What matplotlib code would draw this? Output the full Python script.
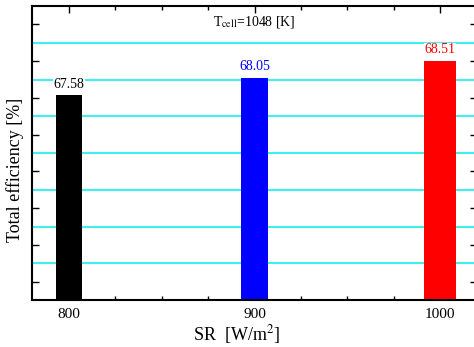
import matplotlib
matplotlib.use('Agg')
import matplotlib.pyplot as plt
import numpy as np

# Total efficiency at each solar radiation level.
sr_levels = [800, 900, 1000]
efficiency = [67.58, 68.05, 68.51]
bar_colors = ['black', 'blue', 'red']
bar_widths = [14, 14.5, 17]
tick_labels = ['800', '900', '1000']
grid_values = [63, 64, 65, 66, 67, 68, 69]

plt.rcParams['font.family'] = ['Liberation Serif', 'DejaVu Serif']
plt.rcParams['mathtext.fontset'] = 'stix'

fig = plt.figure(figsize=(4.74, 3.47), dpi=100)
ax = fig.add_axes([32 / 474, 1 - 300 / 347, 445 / 474, 294 / 347])

# Cyan horizontal grid lines behind the bars.
for g in grid_values:
    ax.axhline(g, color='#40F0F0', linewidth=1.5, zorder=0)

ax.bar(sr_levels, efficiency, width=bar_widths, color=bar_colors, zorder=2)

for x, v, c in zip(sr_levels, efficiency, bar_colors):
    ax.text(x, v + 0.12, f'{v:.2f}', color=c, ha='center', va='bottom',
            fontsize=10, zorder=3,
            bbox=dict(facecolor='white', edgecolor='none', pad=0.5))

ax.text(0.50, 0.946, r'T$_{\mathrm{cell}}$=1048 [K]', transform=ax.transAxes,
        ha='center', va='center', fontsize=10)

ax.set_xlim(780, 1020)
ax.set_ylim(62, 70)

ax.set_xticks(sr_levels)
ax.set_xticklabels(tick_labels, fontsize=11)
ax.set_xticks([825, 850, 875, 925, 950, 975], minor=True)
ax.set_yticks(np.arange(62.5, 70, 1.0))
ax.set_yticklabels([])
ax.tick_params(axis='both', which='major', direction='in', length=5,
               top=True, right=True, width=1)
ax.tick_params(axis='x', which='minor', direction='in', length=3,
               top=True, width=1)
ax.tick_params(axis='x', which='major', pad=6)

for s in ax.spines.values():
    s.set_linewidth(1.5)

ax.set_xlabel(r'SR  [W/m$^2$]', fontsize=13)
ax.set_ylabel('Total efficiency [%]', fontsize=13)
ax.xaxis.set_label_coords(0.46, -0.078)
ax.yaxis.set_label_coords(-0.018, 0.442)

fig.savefig('out.png', dpi=100)
